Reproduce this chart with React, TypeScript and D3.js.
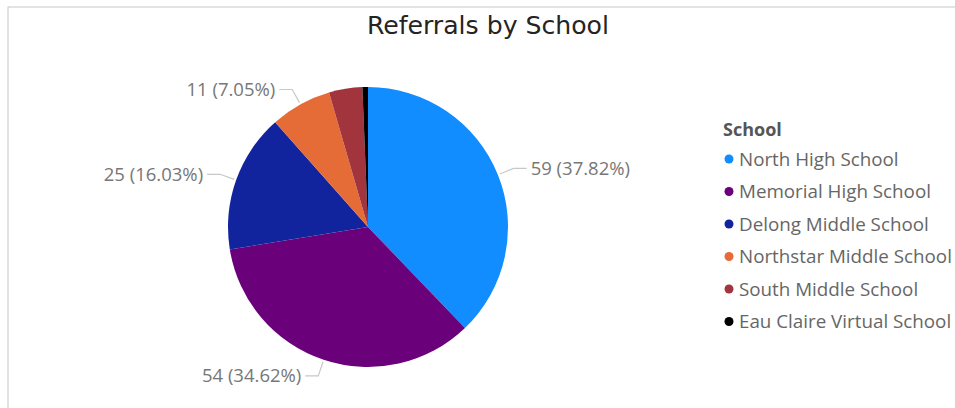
import React from "react";
import * as d3 from "d3";

const schools = [
  "North High School",
  "Memorial High School",
  "Delong Middle School",
  "Northstar Middle School",
  "South Middle School",
  "Eau Claire Virtual School",
];
const referrals = [59, 54, 25, 11, 6, 1];
const colors = ["#118DFF", "#6B007B", "#12239E", "#E66C37", "#A1343C", "#000000"];

const W = 955;
const H = 408;
const cx = 368;
const cy = 227;
const R = 140;

export default function App() {
  const total = d3.sum(referrals);
  const data = schools.map((s, i) => ({ s, v: referrals[i], c: colors[i] }));
  const pie = d3.pie<any>().value((d) => d.v).sort(null);
  const arcs = pie(data);
  const arc = d3.arc<any>().innerRadius(0).outerRadius(R);
  const fmt = d3.format(".2%");
  const labelFont = "'Open Sans', 'Noto Sans', sans-serif";

  const pt = (a: number, r: number) => [Math.sin(a) * r, -Math.cos(a) * r];

  return (
    <svg
      width={W}
      height={H}
      style={{ position: "absolute", left: 0, top: 0, background: "#fff" }}
    >
      <rect x={8} y={7} width={W} height={H} fill="none" stroke="#C8C8C8" strokeWidth={1} />
      <text
        x={488}
        y={34}
        textAnchor="middle"
        fontFamily="'DejaVu Sans Condensed', 'DejaVu Sans', sans-serif"
        fontStretch="condensed"
        fontSize={25}
        textLength={242}
        lengthAdjust="spacingAndGlyphs"
        fill="#252423"
      >
        Referrals by School
      </text>
      <g transform={`translate(${cx},${cy})`}>
        {arcs.map((a, i) => (
          <path key={i} d={arc(a) as string} fill={a.data.c} />
        ))}
        {arcs.slice(0, 4).map((a, i) => {
          const mid = (a.startAngle + a.endAngle) / 2;
          const p0 = pt(mid, R + 2);
          const p1 = pt(mid, R + 17);
          const right = Math.sin(mid) > 0;
          const x2 = p1[0] + (right ? 13 : -13);
          return (
            <g key={i}>
              <polyline
                points={`${p0[0]},${p0[1]} ${p1[0]},${p1[1]} ${x2},${p1[1]}`}
                fill="none"
                stroke="#C8C8C8"
                strokeWidth={1.2}
              />
              <text
                x={x2 + (right ? 4 : -4)}
                y={p1[1]}
                dy="0.35em"
                textAnchor={right ? "start" : "end"}
                fontFamily={labelFont}
                fontSize={18.5}
                fill="#777777"
              >
                {`${a.data.v} (${fmt(a.data.v / total)})`}
              </text>
            </g>
          );
        })}
      </g>
      <g>
        <text
          x={723}
          y={130}
          dy="0.35em"
          fontFamily={labelFont}
          fontWeight="bold"
          fontSize={18}
          fill="#555555"
        >
          School
        </text>
        {data.map((d, i) => (
          <g key={i} transform={`translate(729,${159 + i * 32.5})`}>
            <circle r={4.5} fill={d.c} />
            <text
              x={10}
              dy="0.35em"
              fontFamily={labelFont}
              fontSize={18.8}
              fill="#666666"
            >
              {d.s}
            </text>
          </g>
        ))}
      </g>
    </svg>
  );
}
